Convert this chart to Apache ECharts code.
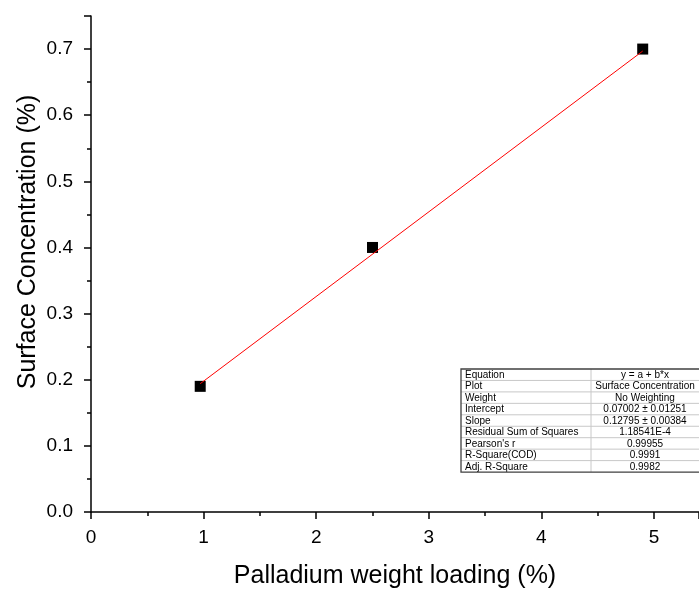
<!DOCTYPE html>
<html>
<head>
<meta charset="utf-8">
<script src="https://cdn.jsdelivr.net/npm/echarts@6/dist/echarts.min.js"></script>
<style>
    html, body { margin: 0; padding: 0; background: #fff; }
    #chart { width: 699px; height: 594px; }
</style>
</head>
<body>
<div id="chart"></div>
<script>
    // measured points
    var loading = [0.97, 2.5, 4.9];
    var concentration = [0.19, 0.40, 0.70];
    // linear fit drawn between first and last point
    var fitX = [0.97, 4.9];
    var fitY = [0.194, 0.697];
    // fit report table
    var tableLabels = ['Equation', 'Plot', 'Weight', 'Intercept', 'Slope',
        'Residual Sum of Squares', "Pearson's r", 'R-Square(COD)', 'Adj. R-Square'];
    var tableValues = ['y = a + b*x', 'Surface Concentration', 'No Weighting',
        '0.07002 \u00b1 0.01251', '0.12795 \u00b1 0.00384', '1.18541E-4',
        '0.99955', '0.9991', '0.9982'];

    var myChart = echarts.init(document.getElementById('chart'));

    var pts = [];
    for (var i = 0; i < loading.length; i++) pts.push([loading[i], concentration[i]]);
    var fit = [];
    for (var j = 0; j < fitX.length; j++) fit.push([fitX[j], fitY[j]]);

    var font = '"Liberation Sans", Arial, sans-serif';

    //表格
    var tx = 461, ty = 369, rowH = 11.45, col = 591, tw = 240;
    var tfont = '10px "Liberation Sans", Arial';
    var graphics = [];
    for (var r = 0; r < tableLabels.length; r++) {
        var y = ty + r * rowH;
        if (r > 0) {
            graphics.push({ type: 'line', shape: { x1: tx, y1: y, x2: tx + tw, y2: y },
                style: { stroke: '#c8c8c8', lineWidth: 1 } });
        }
        graphics.push({ type: 'text', x: tx + 4, y: y + rowH / 2 + 0.5,
            style: { text: tableLabels[r], font: tfont, fill: '#000', verticalAlign: 'middle' } });
        graphics.push({ type: 'text', x: 645, y: y + rowH / 2 + 0.5,
            style: { text: tableValues[r], font: tfont, fill: '#000', align: 'center', verticalAlign: 'middle' } });
    }
    graphics.push({ type: 'line', shape: { x1: col, y1: ty, x2: col, y2: ty + rowH * 9 },
        style: { stroke: '#c8c8c8', lineWidth: 1 } });
    graphics.push({ type: 'rect', shape: { x: tx, y: ty, width: tw, height: rowH * 9 },
        style: { fill: null, stroke: '#404040', lineWidth: 1.3 } });
    //y轴标题
    graphics.push({ type: 'text', x: 28, y: 242, rotation: Math.PI / 2,
        style: { text: 'Surface Concentration (%)', font: '25px ' + font, fill: '#000',
            align: 'center', verticalAlign: 'middle' } });

    myChart.setOption({
        animation: false,
        grid: { left: 91, top: 16, right: 0, bottom: 81, containLabel: false },
        xAxis: {
            type: 'value', min: 0, max: 5.4, interval: 1,
            name: 'Palladium weight loading (%)', nameLocation: 'middle', nameGap: 52,
            nameTextStyle: { fontFamily: font, fontSize: 25, color: '#000' },
            axisLine: { show: true, lineStyle: { color: '#000', width: 1.5 } },
            axisTick: { show: true, inside: false, length: 7, lineStyle: { color: '#000', width: 1.5 } },
            minorTick: { show: true, splitNumber: 2, length: 4, lineStyle: { color: '#000', width: 1.5 } },
            axisLabel: { fontFamily: font, fontSize: 19, color: '#000', margin: 16, showMaxLabel: false },
            splitLine: { show: false }
        },
        yAxis: {
            type: 'value', min: 0, max: 0.75, interval: 0.1,
            axisLine: { show: true, lineStyle: { color: '#000', width: 1.5 } },
            axisTick: { show: true, inside: false, length: 7, lineStyle: { color: '#000', width: 1.5 } },
            minorTick: { show: true, splitNumber: 2, length: 4, lineStyle: { color: '#000', width: 1.5 } },
            axisLabel: { fontFamily: font, fontSize: 19, color: '#000', margin: 18, showMaxLabel: false,
                formatter: function (v) { return v.toFixed(1); } },
            splitLine: { show: false }
        },
        series: [
            {
                type: 'line', data: fit, symbol: 'none',
                lineStyle: { color: '#ff0000', width: 1 }, z: 3
            },
            {
                type: 'scatter', data: pts, symbol: 'rect', symbolSize: 11,
                itemStyle: { color: '#000', opacity: 1 }, z: 2
            }
        ],
        graphic: graphics
    });
</script>
</body>
</html>
